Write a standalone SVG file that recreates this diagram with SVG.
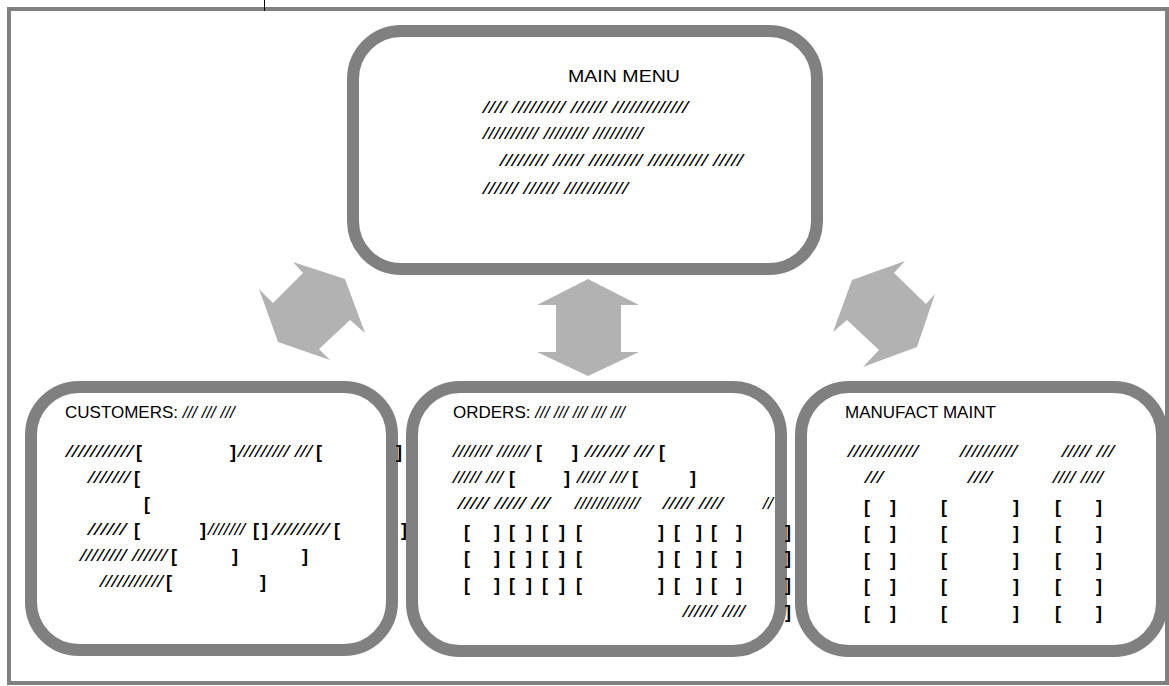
<svg xmlns="http://www.w3.org/2000/svg" width="1169" height="686" viewBox="0 0 1169 686">
  <style>
    .frame { fill: #ffffff; stroke: #808080; stroke-width: 4; }
    .box { fill: #ffffff; stroke: #808080; stroke-width: 12; }
    .arrow { fill: #b2b2b2; stroke: none; }
    text { font-family: "Liberation Sans", Arial, sans-serif; fill: #000000; }
    .hd { font-size: 17px; }
    .sl { font-size: 17px; font-style: italic; }
    .br { font-size: 18px; font-weight: bold; }
  </style>

  <!-- page frame -->
  <g id="frame">
    <rect class="frame" x="9" y="9" width="1158" height="674"/>
    <line x1="264.5" y1="0" x2="264.5" y2="11" stroke="#000000" stroke-width="1"/>
  </g>

  <!-- double-headed block arrows between the menu and the sub-screens -->
  <g id="connectors">
    <polygon class="arrow" points="293,262 345,279 365,333 350,320 319,349 330,360 278,342 259,289 273,303 303,273"/>
    <polygon class="arrow" points="588,279 639,305 621,305 621,352 639,352 588,376 537,352 556,352 556,305 537,305"/>
    <polygon class="arrow" points="905,261 852,280 833,332 847,320 879,350 863,367 917,347 935,294 926,304 894,273"/>
  </g>

  <g id="node-main-menu">
    <rect class="box" x="353" y="31" width="464" height="238" rx="48" ry="48"/>
    <text class="hd" x="568" y="82" font-size="18" textLength="112" lengthAdjust="spacingAndGlyphs">MAIN MENU</text>
    <text class="sl" x="483" y="113" textLength="205" lengthAdjust="spacingAndGlyphs">//// ///////// ////// /////////////</text>
    <text class="sl" x="483" y="139" textLength="160" lengthAdjust="spacingAndGlyphs">////////// //////// /////////</text>
    <text class="sl" x="500" y="166" textLength="243" lengthAdjust="spacingAndGlyphs">//////// ///// ///////// ////////// /////</text>
    <text class="sl" x="483" y="194" textLength="145" lengthAdjust="spacingAndGlyphs">////// ////// ///////////</text>
  </g>

  <g id="node-customers">
    <rect class="box" x="31" y="387" width="361" height="263" rx="48" ry="48"/>
    <text class="hd" x="65" y="418">CUSTOMERS: <tspan class="sl" font-size="15">/// /// ///</tspan></text>
    <!-- row 1 -->
    <text class="sl" x="66" y="457" textLength="67" lengthAdjust="spacingAndGlyphs">///////////</text>
    <text class="br" x="136" y="458">[</text>
    <text class="br" x="230" y="458">]</text>
    <text class="sl" x="238" y="457" textLength="74" lengthAdjust="spacingAndGlyphs">///////// ///</text>
    <text class="br" x="316" y="458">[</text>
    <text class="br" x="396" y="458">]</text>
    <!-- row 2 -->
    <text class="sl" x="88" y="483" textLength="42" lengthAdjust="spacingAndGlyphs">///////</text>
    <text class="br" x="134" y="484">[</text>
    <!-- row 3 -->
    <text class="br" x="144" y="510">[</text>
    <!-- row 4 -->
    <text class="sl" x="88" y="535" textLength="38" lengthAdjust="spacingAndGlyphs">//////</text>
    <text class="br" x="134" y="536">[</text>
    <text class="br" x="200" y="536">]</text>
    <text class="sl" x="208" y="535" textLength="37" lengthAdjust="spacingAndGlyphs">///////</text>
    <text class="br" x="253" y="536">[</text>
    <text class="br" x="262" y="536">]</text>
    <text class="sl" x="272" y="535" textLength="57" lengthAdjust="spacingAndGlyphs">/////////</text>
    <text class="br" x="334" y="536">[</text>
    <text class="br" x="401" y="536">]</text>
    <!-- row 5 -->
    <text class="sl" x="80" y="561" textLength="87" lengthAdjust="spacingAndGlyphs">//////// //////</text>
    <text class="br" x="171" y="562">[</text>
    <text class="br" x="232" y="562">]</text>
    <text class="br" x="302" y="562">]</text>
    <!-- row 6 -->
    <text class="sl" x="100" y="587" textLength="63" lengthAdjust="spacingAndGlyphs">///////////</text>
    <text class="br" x="166" y="588">[</text>
    <text class="br" x="260" y="588">]</text>
  </g>

  <g id="node-orders">
    <rect class="box" x="412" y="387" width="369" height="264" rx="48" ry="48"/>
    <text class="hd" x="453" y="418">ORDERS: <tspan class="sl" font-size="15">/// /// /// /// ///</tspan></text>
    <!-- row 1 -->
    <text class="sl" x="453" y="457" textLength="77" lengthAdjust="spacingAndGlyphs">/////// //////</text>
    <text class="br" x="536" y="458">[</text>
    <text class="br" x="572" y="458">]</text>
    <text class="sl" x="585" y="457" textLength="68" lengthAdjust="spacingAndGlyphs">/////// ///</text>
    <text class="br" x="659" y="458">[</text>
    <!-- row 2 -->
    <text class="sl" x="453" y="483" textLength="50" lengthAdjust="spacingAndGlyphs">///// ///</text>
    <text class="br" x="509" y="484">[</text>
    <text class="br" x="564" y="484">]</text>
    <text class="sl" x="577" y="483" textLength="50" lengthAdjust="spacingAndGlyphs">///// ///</text>
    <text class="br" x="632" y="484">[</text>
    <text class="br" x="690" y="484">]</text>
    <!-- row 3 -->
    <text class="sl" x="458" y="509" textLength="92" lengthAdjust="spacingAndGlyphs">/////  /////  ///</text>
    <text class="sl" x="575" y="509" textLength="65" lengthAdjust="spacingAndGlyphs">////////////</text>
    <text class="sl" x="663" y="509" textLength="60" lengthAdjust="spacingAndGlyphs">/////  ////</text>
    <text class="sl" x="763" y="509" textLength="10" lengthAdjust="spacingAndGlyphs">//</text>
    <!-- bracket grid -->
    <g id="orders-grid">
      <text class="br" y="538"><tspan x="464">[</tspan><tspan x="494">]</tspan><tspan x="509">[</tspan><tspan x="526">]</tspan><tspan x="542">[</tspan><tspan x="559">]</tspan><tspan x="576">[</tspan><tspan x="658">]</tspan><tspan x="674">[</tspan><tspan x="696">]</tspan><tspan x="711">[</tspan><tspan x="736">]</tspan><tspan x="785">]</tspan></text>
      <text class="br" y="564"><tspan x="464">[</tspan><tspan x="494">]</tspan><tspan x="509">[</tspan><tspan x="526">]</tspan><tspan x="542">[</tspan><tspan x="559">]</tspan><tspan x="576">[</tspan><tspan x="658">]</tspan><tspan x="674">[</tspan><tspan x="696">]</tspan><tspan x="711">[</tspan><tspan x="736">]</tspan><tspan x="785">]</tspan></text>
      <text class="br" y="591"><tspan x="464">[</tspan><tspan x="494">]</tspan><tspan x="509">[</tspan><tspan x="526">]</tspan><tspan x="542">[</tspan><tspan x="559">]</tspan><tspan x="576">[</tspan><tspan x="658">]</tspan><tspan x="674">[</tspan><tspan x="696">]</tspan><tspan x="711">[</tspan><tspan x="736">]</tspan><tspan x="785">]</tspan></text>
    </g>
    <text class="sl" x="683" y="617" textLength="62" lengthAdjust="spacingAndGlyphs">////// ////</text>
    <text class="br" x="785" y="618">]</text>
  </g>

  <g id="node-manufact">
    <rect class="box" x="801" y="387" width="361" height="264" rx="48" ry="48"/>
    <text class="hd" x="845" y="418">MANUFACT MAINT</text>
    <text class="sl" x="848" y="457" textLength="70" lengthAdjust="spacingAndGlyphs">////////////</text>
    <text class="sl" x="960" y="457" textLength="57" lengthAdjust="spacingAndGlyphs">//////////</text>
    <text class="sl" x="1062" y="457" textLength="52" lengthAdjust="spacingAndGlyphs">///// ///</text>
    <text class="sl" x="865" y="483" textLength="18" lengthAdjust="spacingAndGlyphs">///</text>
    <text class="sl" x="968" y="483" textLength="24" lengthAdjust="spacingAndGlyphs">////</text>
    <text class="sl" x="1053" y="483" textLength="50" lengthAdjust="spacingAndGlyphs">//// ////</text>
    <g id="manufact-grid">
      <text class="br" y="513"><tspan x="864">[</tspan><tspan x="890">]</tspan><tspan x="941">[</tspan><tspan x="1013">]</tspan><tspan x="1055">[</tspan><tspan x="1096">]</tspan></text>
      <text class="br" y="539"><tspan x="864">[</tspan><tspan x="890">]</tspan><tspan x="941">[</tspan><tspan x="1013">]</tspan><tspan x="1055">[</tspan><tspan x="1096">]</tspan></text>
      <text class="br" y="566"><tspan x="864">[</tspan><tspan x="890">]</tspan><tspan x="941">[</tspan><tspan x="1013">]</tspan><tspan x="1055">[</tspan><tspan x="1096">]</tspan></text>
      <text class="br" y="592"><tspan x="864">[</tspan><tspan x="890">]</tspan><tspan x="941">[</tspan><tspan x="1013">]</tspan><tspan x="1055">[</tspan><tspan x="1096">]</tspan></text>
      <text class="br" y="619"><tspan x="864">[</tspan><tspan x="890">]</tspan><tspan x="941">[</tspan><tspan x="1013">]</tspan><tspan x="1055">[</tspan><tspan x="1096">]</tspan></text>
    </g>
  </g>
</svg>
